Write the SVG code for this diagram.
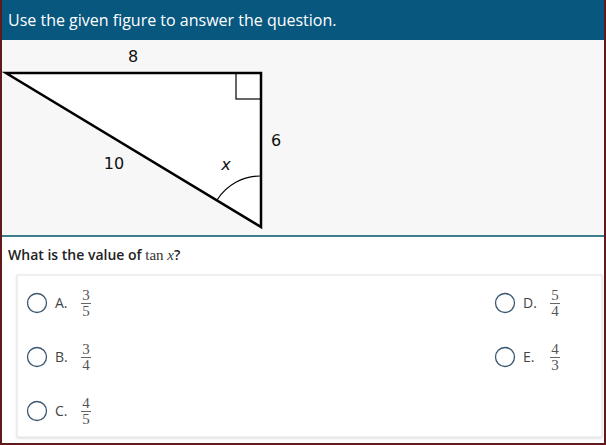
<svg xmlns="http://www.w3.org/2000/svg" width="606" height="445" viewBox="0 0 606 445">
<defs>
<style>
.hdr{font-family:"Open Sans","Liberation Sans",sans-serif;font-size:16px;fill:#fff}
.lbl{font-family:"DejaVu Sans","Liberation Sans",sans-serif;font-size:16px;fill:#111;text-anchor:middle}
.q{font-family:"Open Sans","Liberation Sans",sans-serif;font-size:14px;fill:#222;font-weight:600}
.m{font-family:"Liberation Serif",serif;font-size:15px;fill:#333;font-weight:400}
.opt{font-family:"Open Sans","Liberation Sans",sans-serif;font-size:14px;fill:#444}
.fr{font-family:"Liberation Serif","Times New Roman",serif;font-size:15px;fill:#555;text-anchor:middle}
.radio{fill:#fff;stroke:#3a5670;stroke-width:1.3}
.bar{stroke:#666;stroke-width:1}
</style>
<filter id="sh" x="-5%" y="-5%" width="110%" height="110%"><feDropShadow dx="0" dy="1" stdDeviation="1" flood-color="#000" flood-opacity="0.15"/></filter>
</defs>
<rect x="0" y="0" width="606" height="445" fill="#5e1a1c"/>
<rect x="2" y="0" width="602" height="443" fill="#fff"/>
<g id="header">
<rect x="2" y="0" width="602" height="40" fill="#07577f"/>
<text class="hdr" x="8" y="26">Use the given figure to answer the question.</text>
</g>
<g id="figure">
<rect x="2" y="40" width="602" height="195" fill="#f7f7f7"/>
<polygon points="6,73 261,73 261,227" fill="#fff" stroke="#000" stroke-width="2.5" stroke-linejoin="miter"/>
<rect x="236" y="73" width="25" height="26" fill="none" stroke="#000" stroke-width="1.2"/>
<path d="M261,176 A51,51 0 0 0 217,200" fill="none" stroke="#000" stroke-width="1.2"/>
<text class="lbl" x="133" y="62">8</text>
<text class="lbl" x="114" y="169">10</text>
<text class="lbl" x="226" y="170" font-style="italic" font-size="15">x</text>
<text class="lbl" x="276" y="146">6</text>
</g>
<rect x="2" y="235" width="602" height="2" fill="#3c7e8c"/>
<g id="question">
<text class="q" x="8" y="260">What is the value of <tspan class="m">tan</tspan><tspan class="m" font-style="italic"> x</tspan>?</text>
</g>
<rect x="17" y="275" width="585" height="162" fill="#fff" stroke="#e2e2e2" stroke-width="1" filter="url(#sh)"/>
<g id="optA">
<circle class="radio" cx="37" cy="303" r="9.5"/>
<text class="opt" x="55" y="308">A.</text>
<text class="fr" x="86" y="300">3</text><line class="bar" x1="81" y1="303.5" x2="91" y2="303.5"/><text class="fr" x="86" y="316">5</text>
</g>
<g id="optB">
<circle class="radio" cx="37" cy="357" r="9.5"/>
<text class="opt" x="55" y="362">B.</text>
<text class="fr" x="86" y="354">3</text><line class="bar" x1="81" y1="357.5" x2="91" y2="357.5"/><text class="fr" x="86" y="370">4</text>
</g>
<g id="optC">
<circle class="radio" cx="37" cy="411" r="9.5"/>
<text class="opt" x="55" y="416">C.</text>
<text class="fr" x="86" y="408">4</text><line class="bar" x1="81" y1="411.5" x2="91" y2="411.5"/><text class="fr" x="86" y="424">5</text>
</g>
<g id="optD">
<circle class="radio" cx="505" cy="303" r="9.5"/>
<text class="opt" x="523" y="308">D.</text>
<text class="fr" x="555" y="300">5</text><line class="bar" x1="550" y1="303.5" x2="560" y2="303.5"/><text class="fr" x="555" y="316">4</text>
</g>
<g id="optE">
<circle class="radio" cx="505" cy="357" r="9.5"/>
<text class="opt" x="523" y="362">E.</text>
<text class="fr" x="555" y="354">4</text><line class="bar" x1="550" y1="357.5" x2="560" y2="357.5"/><text class="fr" x="555" y="370">3</text>
</g>
</svg>
